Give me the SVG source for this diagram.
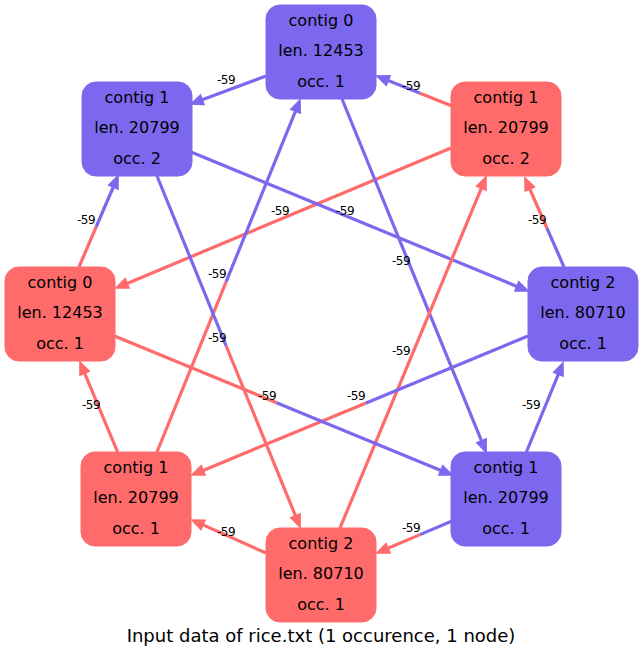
<svg xmlns="http://www.w3.org/2000/svg" width="643" height="653" viewBox="0 0 643 653">
<style>
.b{fill:#7B68EE;stroke:#7B68EE;stroke-width:1}
.r{fill:#FF6A6A;stroke:#FF6A6A;stroke-width:1}
.nt{font-family:"DejaVu Sans",sans-serif;font-size:16px;fill:#000;text-anchor:middle}
.lb{font-family:"DejaVu Sans",sans-serif;font-size:12px;fill:#000;text-anchor:middle;letter-spacing:-0.5px}
.eb{stroke:#7B68EE;stroke-width:3.2;fill:none}
.er{stroke:#FF6A6A;stroke-width:3.2;fill:none}
.eb.a{marker-end:url(#ab)}
.er.a{marker-end:url(#ar)}
.cap{font-family:"DejaVu Sans",sans-serif;font-size:18px;fill:#000;text-anchor:middle}
</style>
<defs>
<marker id="ab" markerUnits="userSpaceOnUse" markerWidth="16" markerHeight="14" viewBox="-2 -7 16 14" refX="0" refY="0" orient="auto"><path d="M0,-5 L12,0 L0,5 Z" fill="#7B68EE" stroke="#7B68EE" stroke-width="1.6"/></marker>
<marker id="ar" markerUnits="userSpaceOnUse" markerWidth="16" markerHeight="14" viewBox="-2 -7 16 14" refX="0" refY="0" orient="auto"><path d="M0,-5 L12,0 L0,5 Z" fill="#FF6A6A" stroke="#FF6A6A" stroke-width="1.6"/></marker>
</defs>
<rect width="643" height="653" fill="#fff"/>
<g id="edges">
<line class="eb a" x1="266" y1="76" x2="202.2" y2="99.8"/>
<line class="er" x1="452" y1="106" x2="420.1" y2="93.2"/><line class="eb a" x1="420.1" y1="93.2" x2="388.1" y2="80.5"/>
<line class="er" x1="79" y1="267" x2="96.1" y2="227"/><line class="eb a" x1="96.1" y1="227" x2="113.3" y2="187"/>
<line class="eb" x1="564" y1="267" x2="546.9" y2="228"/><line class="er a" x1="546.9" y1="228" x2="529.8" y2="189"/>
<line class="er a" x1="118" y1="453" x2="84.6" y2="373.1"/>
<line class="eb a" x1="526" y1="453" x2="558.4" y2="374.1"/>
<line class="er a" x1="266" y1="553" x2="203" y2="524.9"/>
<line class="eb" x1="452" y1="521" x2="420" y2="534.6"/><line class="er a" x1="420" y1="534.6" x2="388" y2="548.3"/>
<line class="er a" x1="451" y1="148" x2="127.1" y2="283.4"/>
<line class="eb a" x1="191" y1="152" x2="516.9" y2="286.4"/>
<line class="eb a" x1="342" y1="99" x2="481.5" y2="440.9"/>
<line class="er a" x1="340" y1="528" x2="481.4" y2="188.1"/>
<line class="eb" x1="528" y1="336" x2="365.5" y2="403.2"/><line class="er a" x1="365.5" y1="403.2" x2="203.1" y2="470.4"/>
<line class="er" x1="112" y1="335" x2="276.5" y2="402.7"/><line class="eb a" x1="276.5" y1="402.7" x2="440.9" y2="470.4"/>
<line class="er" x1="157" y1="452" x2="226.2" y2="281.6"/><line class="eb a" x1="226.2" y1="281.6" x2="295.5" y2="111.1"/>
<line class="eb" x1="157" y1="176" x2="226.2" y2="346"/><line class="er a" x1="226.2" y1="346" x2="295.5" y2="515.9"/>
<text class="lb" x="226" y="83.5">-59</text>
<text class="lb" x="411" y="89.5">-59</text>
<text class="lb" x="86" y="223.5">-59</text>
<text class="lb" x="537" y="223.5">-59</text>
<text class="lb" x="91" y="408.5">-59</text>
<text class="lb" x="531" y="408.5">-59</text>
<text class="lb" x="226" y="535.5">-59</text>
<text class="lb" x="411" y="531.5">-59</text>
<text class="lb" x="280" y="214.5">-59</text>
<text class="lb" x="345" y="214.5">-59</text>
<text class="lb" x="401" y="264.5">-59</text>
<text class="lb" x="401" y="354.5">-59</text>
<text class="lb" x="356" y="399.5">-59</text>
<text class="lb" x="267" y="399.5">-59</text>
<text class="lb" x="217" y="277.5">-59</text>
<text class="lb" x="217" y="341.5">-59</text>
</g>
<g id="n1"><rect class="b" x="266" y="5" width="110" height="94" rx="14"/><text class="nt" x="321" y="25.5">contig 0</text><text class="nt" x="321" y="56">len. 12453</text><text class="nt" x="321" y="86.5">occ. 1</text></g>
<g id="n2"><rect class="b" x="82" y="82" width="110" height="94" rx="14"/><text class="nt" x="137" y="102.5">contig 1</text><text class="nt" x="137" y="133">len. 20799</text><text class="nt" x="137" y="163.5">occ. 2</text></g>
<g id="n3"><rect class="r" x="451" y="82" width="110" height="94" rx="14"/><text class="nt" x="506" y="102.5">contig 1</text><text class="nt" x="506" y="133">len. 20799</text><text class="nt" x="506" y="163.5">occ. 2</text></g>
<g id="n4"><rect class="r" x="5" y="267" width="110" height="94" rx="14"/><text class="nt" x="60" y="287.5">contig 0</text><text class="nt" x="60" y="318">len. 12453</text><text class="nt" x="60" y="348.5">occ. 1</text></g>
<g id="n5"><rect class="b" x="528" y="267" width="110" height="94" rx="14"/><text class="nt" x="583" y="287.5">contig 2</text><text class="nt" x="583" y="318">len. 80710</text><text class="nt" x="583" y="348.5">occ. 1</text></g>
<g id="n6"><rect class="r" x="81" y="452" width="110" height="94" rx="14"/><text class="nt" x="136" y="472.5">contig 1</text><text class="nt" x="136" y="503">len. 20799</text><text class="nt" x="136" y="533.5">occ. 1</text></g>
<g id="n7"><rect class="b" x="451" y="452" width="110" height="94" rx="14"/><text class="nt" x="506" y="472.5">contig 1</text><text class="nt" x="506" y="503">len. 20799</text><text class="nt" x="506" y="533.5">occ. 1</text></g>
<g id="n8"><rect class="r" x="266" y="528" width="110" height="94" rx="14"/><text class="nt" x="321" y="548.5">contig 2</text><text class="nt" x="321" y="579">len. 80710</text><text class="nt" x="321" y="609.5">occ. 1</text></g>
<text class="cap" x="321" y="642">Input data of rice.txt (1 occurence, 1 node)</text>
</svg>
